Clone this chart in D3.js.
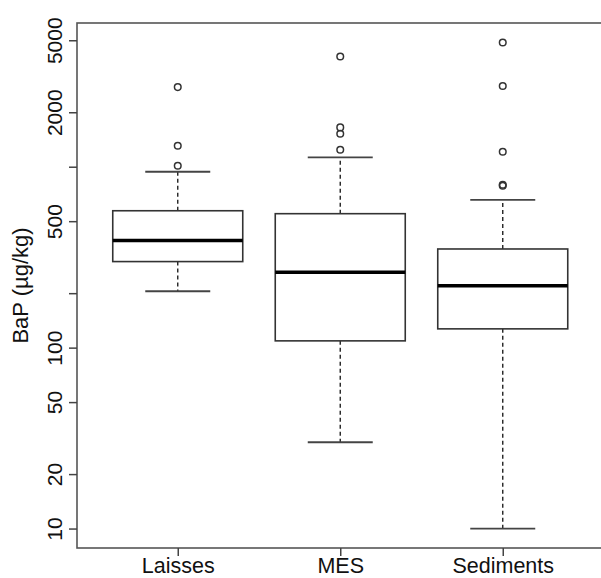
<!DOCTYPE html>
<html>
<head>
<meta charset="utf-8">
<script src="https://cdn.jsdelivr.net/npm/d3@7"></script>
<style>
  html, body { margin: 0; padding: 0; background: #fff; }
  svg { display: block; }
  text { font-family: "Liberation Sans", Arial, Helvetica, sans-serif; fill: #111; }
</style>
</head>
<body>
<svg id="chart" width="601" height="578"></svg>
<script>
// ---- data ----
const categories = ["Laisses", "MES", "Sediments"];
const lowerWhisker = [205, 30, 10];
const q1 = [299, 109, 127];
const median = [391, 261, 220];
const q3 = [571, 550, 351];
const upperWhisker = [938, 1126, 655];
const outliers = [
  [1013, 1306, 2754],
  [1242, 1521, 1649, 4066],
  [785, 795, 1210, 2791, 4863]
];
const yTickValues = [10, 20, 50, 100, 200, 500, 1000, 2000, 5000];
const yTickLabels = ["10", "20", "50", "100", "", "500", "", "2000", "5000"];
const yTitle = "BaP (µg/kg)";

// ---- layout ----
const W = 601, H = 578;
const plot = { left: 77, right: 603.5, top: 23, bottom: 548 };

const svg = d3.select("#chart");
svg.append("rect").attr("width", W).attr("height", H).attr("fill", "#fff");

// x scale: points with R-like spacing (xlim 0.5..n+0.5 extended by 4%)
const x = d3.scalePoint()
  .domain(categories)
  .range([plot.left, plot.right])
  .padding(0.62);
const step = x.step();
const boxW = step * 0.8;
const capW = step * 0.4;

// y scale: log, data range extended by 4% on each side (log space)
const allVals = [].concat(lowerWhisker, upperWhisker, ...outliers);
const lmin = Math.log10(d3.min(allVals)), lmax = Math.log10(d3.max(allVals));
const ext = (lmax - lmin) * 0.04;
const y = d3.scaleLog()
  .domain([Math.pow(10, lmin - ext), Math.pow(10, lmax + ext)])
  .range([plot.bottom, plot.top]);

const stats = categories.map((c, i) => ({
  cat: c, lo: lowerWhisker[i], q1: q1[i], med: median[i], q3: q3[i], hi: upperWhisker[i], out: outliers[i]
}));

const g = svg.append("g");
const boxes = g.selectAll("g.box").data(stats).join("g").attr("class", "box");

// whiskers (dashed)
boxes.append("line")
  .attr("x1", d => x(d.cat)).attr("x2", d => x(d.cat))
  .attr("y1", d => y(d.q3)).attr("y2", d => y(d.hi))
  .attr("stroke", "#222").attr("stroke-width", 1.4).attr("stroke-dasharray", "4,3");
boxes.append("line")
  .attr("x1", d => x(d.cat)).attr("x2", d => x(d.cat))
  .attr("y1", d => y(d.q1)).attr("y2", d => y(d.lo))
  .attr("stroke", "#222").attr("stroke-width", 1.4).attr("stroke-dasharray", "4,3");
// caps
boxes.append("line")
  .attr("x1", d => x(d.cat) - capW / 2).attr("x2", d => x(d.cat) + capW / 2)
  .attr("y1", d => y(d.hi)).attr("y2", d => y(d.hi))
  .attr("stroke", "#444").attr("stroke-width", 1.8);
boxes.append("line")
  .attr("x1", d => x(d.cat) - capW / 2).attr("x2", d => x(d.cat) + capW / 2)
  .attr("y1", d => y(d.lo)).attr("y2", d => y(d.lo))
  .attr("stroke", "#444").attr("stroke-width", 1.8);
// box
boxes.append("rect")
  .attr("x", d => x(d.cat) - boxW / 2).attr("width", boxW)
  .attr("y", d => y(d.q3)).attr("height", d => y(d.q1) - y(d.q3))
  .attr("fill", "#fff").attr("stroke", "#333").attr("stroke-width", 1.6);
// median
boxes.append("line")
  .attr("x1", d => x(d.cat) - boxW / 2).attr("x2", d => x(d.cat) + boxW / 2)
  .attr("y1", d => y(d.med)).attr("y2", d => y(d.med))
  .attr("stroke", "#000").attr("stroke-width", 3.6);
// outliers
boxes.selectAll("circle").data(d => d.out.map(v => ({ cat: d.cat, v })))
  .join("circle")
  .attr("cx", d => x(d.cat)).attr("cy", d => y(d.v)).attr("r", 3.3)
  .attr("fill", "none").attr("stroke", "#333").attr("stroke-width", 1.5);

// frame
svg.append("rect")
  .attr("x", plot.left).attr("y", plot.top)
  .attr("width", plot.right - plot.left).attr("height", plot.bottom - plot.top)
  .attr("fill", "none").attr("stroke", "#555").attr("stroke-width", 1.6);

// y axis
const yAxis = svg.append("g")
  .attr("transform", `translate(${plot.left},0)`)
  .call(d3.axisLeft(y).tickValues(yTickValues).tickFormat((d, i) => yTickLabels[i]).tickSize(8));
yAxis.select(".domain").remove();
yAxis.selectAll(".tick line").attr("stroke", "#444").attr("stroke-width", 1.5);
yAxis.selectAll(".tick text")
  .attr("transform", "rotate(-90)")
  .attr("x", 0).attr("y", -15).attr("dy", 0)
  .attr("text-anchor", "middle")
  .style("font-size", "21px").style("font-family", "'Liberation Sans', Arial, sans-serif")
  .attr("fill", "#111");

// x axis
const xAxis = svg.append("g")
  .attr("transform", `translate(0,${plot.bottom})`)
  .call(d3.axisBottom(x).tickSize(8));
xAxis.select(".domain").remove();
xAxis.selectAll(".tick line").attr("stroke", "#444").attr("stroke-width", 1.5);
xAxis.selectAll(".tick text")
  .attr("y", 25).attr("dy", 0)
  .style("font-size", "21.5px").style("font-family", "'Liberation Sans', Arial, sans-serif")
  .attr("fill", "#111");

// y title
svg.append("text")
  .attr("transform", `translate(28,${(plot.top + plot.bottom) / 2}) rotate(-90)`)
  .attr("text-anchor", "middle")
  .style("font-size", "22px")
  .text(yTitle);
</script>
</body>
</html>
